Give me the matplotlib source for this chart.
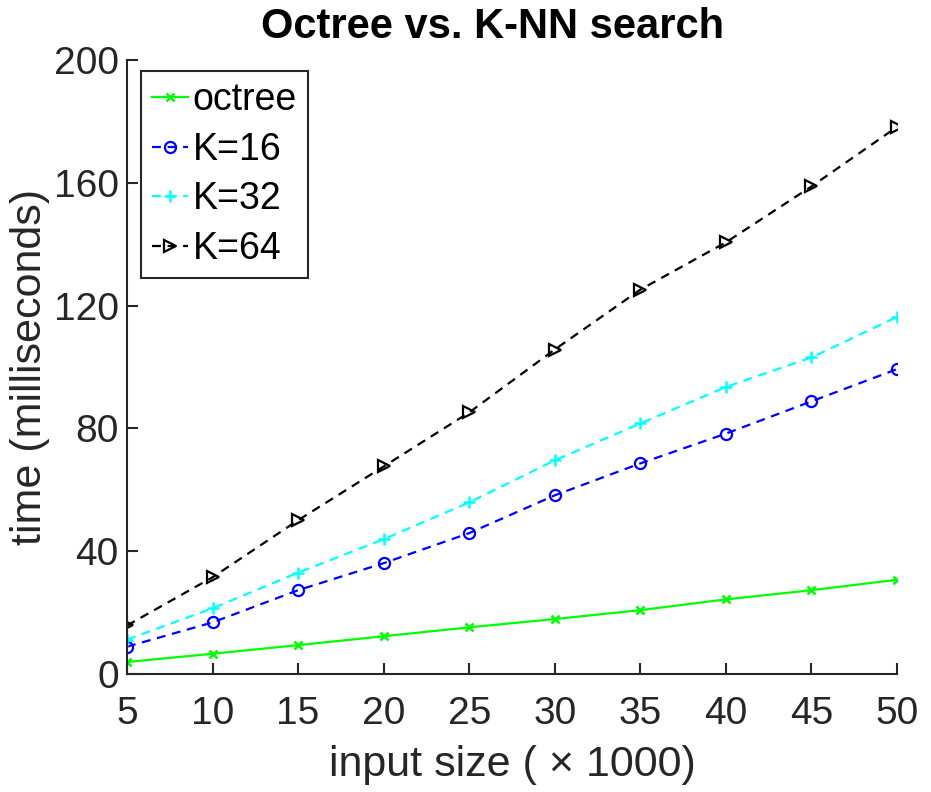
import matplotlib
matplotlib.use("Agg")
import matplotlib.pyplot as plt

plt.rcParams['font.family'] = ['Liberation Sans', 'DejaVu Sans']

sizes = [5, 10, 15, 20, 25, 30, 35, 40, 45, 50]
octree = [3.9, 6.6, 9.4, 12.3, 15.2, 17.9, 20.8, 24.3, 27.3, 30.7]
k16 = [8.9, 16.8, 27.3, 36.1, 45.9, 58.2, 68.6, 78.3, 88.8, 99.3]
k32 = [11.2, 21.4, 33.0, 43.9, 55.9, 69.6, 81.6, 93.5, 103.1, 116.3]
k64 = [15.8, 31.5, 50.1, 67.6, 85.2, 105.7, 125.2, 140.6, 158.8, 178.2]
xticks = [5, 10, 15, 20, 25, 30, 35, 40, 45, 50]
yticks = [0, 40, 80, 120, 160, 200]

fig = plt.figure(figsize=(9.31, 7.92), dpi=100)
ax = fig.add_axes([127/931, (792-674)/792, 770/931, 614/792])

dark = (0.15, 0.15, 0.15)
dash = (4, 3)
ax.plot(sizes, octree, '-', color=(0, 1, 0), marker='x', ms=6, mew=1.8, lw=1.6, label='octree')
ax.plot(sizes, k16, '--', dashes=dash, color=(0, 0, 1), marker='o', ms=8, mfc='none', mew=1.6, lw=1.6, label='K=16')
ax.plot(sizes, k32, '--', dashes=dash, color=(0, 1, 1), marker='+', ms=9, mew=1.8, lw=1.6, label='K=32')
ax.plot(sizes, k64, '--', dashes=dash, color='k', marker='>', ms=8, mfc='none', mew=1.6, lw=1.6, label='K=64')

ax.set_xlim(5, 50)
ax.set_ylim(0, 200)
ax.set_xticks(xticks)
ax.set_yticks(yticks)
ax.tick_params(direction='in', length=8, width=1.5, labelsize=28, colors=dark)
ax.tick_params(axis='x', pad=16)
ax.tick_params(axis='y', pad=6)
for s in ['top', 'right']:
    ax.spines[s].set_visible(False)
for s in ['left', 'bottom']:
    ax.spines[s].set_color(dark)
    ax.spines[s].set_linewidth(1.5)

ax.set_xlabel('input size ( \u00d7 1000)', fontsize=31, color=dark, labelpad=9)
ax.set_ylabel('time (milliseconds)', fontsize=31, color=dark, labelpad=3)
ax.set_title('Octree vs. K-NN search', fontsize=30, fontweight='bold', pad=16,
             x=(493 - 127) / 770)

leg = ax.legend(loc='upper left', fontsize=27, handlelength=0.95, handletextpad=0.12,
                borderpad=0.3, labelspacing=0.36, borderaxespad=0.0, fancybox=False, framealpha=1,
                edgecolor=dark, bbox_to_anchor=(14/770, 1 - 11/614))
leg.get_frame().set_linewidth(1.5)

fig.savefig('out.png', dpi=100)
